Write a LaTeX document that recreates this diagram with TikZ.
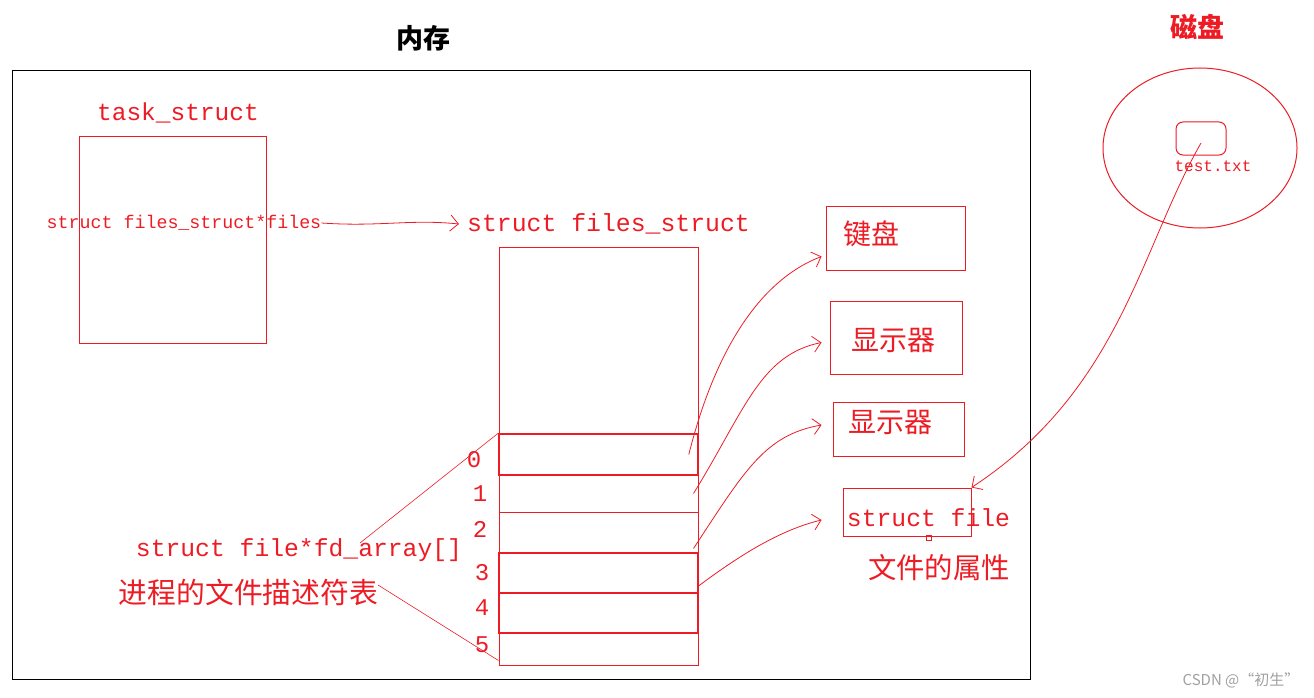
\documentclass[tikz,border=0pt]{standalone}
\usepackage{fontspec}
\setmonofont{Liberation Mono}
\newfontfamily\cjk{Noto Sans CJK SC}
\usetikzlibrary{arrows.meta,positioning,shapes.geometric}
\definecolor{paintred}{RGB}{237,28,36}
\definecolor{markgray}{RGB}{160,160,160}

\begin{document}
\begin{tikzpicture}[x=1pt,y=-1pt,
    box/.style={draw=paintred, line width=1pt, inner sep=0pt},
    slot/.style={box, minimum width=199pt},
    code/.style={text=paintred, inner sep=0pt, font=\ttfamily\fontsize{#1}{#1}\selectfont},
    hanzi/.style={text=paintred, inner sep=0pt, font=\cjk\fontsize{#1}{#1}\selectfont},
    pointer/.style={paintred, line width=0.8pt, -{Straight Barb[length=8pt,width=16pt]}},
    leader/.style={paintred, line width=0.6pt}
]
\useasboundingbox (0,0) rectangle (1314,698);

% Memory frame
\draw[line width=1pt] (12,71) rectangle (1030,679);
\node[inner sep=0pt, font=\cjk\bfseries\fontsize{27}{27}\selectfont] (memtitle) at (423,38) {内存};

% === task_struct ===
\node[code=24.5] (tasktitle) at (178,113) {task\_struct};
\node[box, minimum width=187pt, minimum height=206pt] (task) at (172.5,240) {};
\node[code=18.3] (filesptr) at (184,223) {struct files\_struct*files};

% === files_struct ===
\node[code=24.8] (fstitle) at (608.5,224) {struct files\_struct};
\node[box, minimum width=199pt, minimum height=418pt] (fs) at (598.5,456) {};

% fd_array slots
\node[slot, minimum height=41pt, line width=1.6pt] (fd0) at (598.5,454.5) {};
\node[slot, minimum height=37pt] (fd1) at (598.5,493.5) {};
\node[slot, minimum height=41pt] (fd2) at (598.5,532.5) {};
\node[slot, minimum height=40pt, line width=1.6pt] (fd3) at (598.5,573) {};
\node[slot, minimum height=40pt, line width=1.6pt] (fd4) at (598.5,613) {};
\node[slot, minimum height=32pt] (fd5) at (598.5,649) {};

% slot indices
\node[code=24] (n0) at (474,460) {0};
\node[code=24] (n1) at (480,494) {1};
\node[code=24] (n2) at (480,529) {2};
\node[code=24] (n3) at (482,573) {3};
\node[code=24] (n4) at (482,608) {4};
\node[code=24] (n5) at (482,645) {5};

% fd_array captions
\node[code=24.7] (fdarr) at (299,550) {struct file*fd\_array[]};
\node[hanzi=28.8] (fdtable) at (248.5,592) {进程的文件描述符表};
\draw[leader] (360,543) -- (fd0.north west);
\draw[leader] (378,585) -- ([yshift=5pt]fd5.south west);

% === devices and files ===
\node[box, minimum width=139pt, minimum height=64pt] (kbd) at (895.5,238) {};
\node[hanzi=28] (kbdtext) at (871,234) {键盘};
\node[box, minimum width=132pt, minimum height=73pt] (disp1) at (896,337.5) {};
\node[hanzi=28] (disp1text) at (893,340) {显示器};
\node[box, minimum width=131pt, minimum height=54pt] (disp2) at (898.5,429) {};
\node[hanzi=28] (disp2text) at (890,422) {显示器};
\node[box, minimum width=128pt, minimum height=48pt] (sfile) at (907,512) {};
\node[code=24.7] (sfiletext) at (928.5,518) {struct file};
\draw[paintred, line width=0.8pt] (926,535) rectangle (931,540);
\node[hanzi=28.4] (sfileattr) at (939,568) {文件的属性};

% === disk ===
\node[inner sep=0pt, text=paintred, font=\cjk\bfseries\fontsize{27}{27}\selectfont] (disktitle) at (1197,27) {磁盘};
\node[ellipse, draw=paintred, line width=1pt, minimum width=194pt, minimum height=160pt] (disk) at (1200,148) {};
\node[box, rounded corners=7pt, minimum width=50pt, minimum height=33pt] (testbox) at (1201,138.5) {};
\node[code=16] (testname) at (1213,166) {test.txt};

% pointers
\draw[pointer] (filesptr.east) .. controls (380,227) and (410,219) .. ([xshift=-8pt]fstitle.west);
\draw[pointer] ([xshift=-10pt]fd0.east) .. controls (715,350) and (760,280) .. ([xshift=-4pt,yshift=14pt]kbd.south west);
\draw[pointer] ([xshift=-5pt]fd1.east) .. controls (745,410) and (760,355) .. ([xshift=-8pt,yshift=-5pt]disp1.west);
\draw[pointer] ([xshift=-5pt,yshift=5pt]fd2.south east) .. controls (745,470) and (765,435) .. ([xshift=-11pt,yshift=4pt]disp2.west);
\draw[pointer] ([yshift=8pt]fd3.south east) .. controls (740,555) and (780,530) .. ([xshift=-21pt,yshift=-8pt]sfile.west);
\draw[pointer] ([yshift=-4.5pt]testbox.center) .. controls (1140,250) and (1120,390) .. (sfile.north east);

% watermark
\node[inner sep=0pt, text=markgray, font=\cjk\fontsize{15}{15}\selectfont] (mark) at (1241,680) {CSDN @“初生”};

\end{tikzpicture}
\end{document}
